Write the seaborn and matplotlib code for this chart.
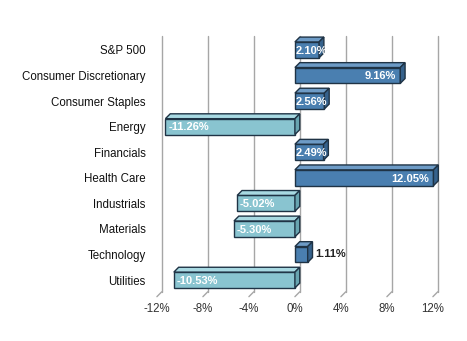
import matplotlib
matplotlib.use("Agg")
import matplotlib.pyplot as plt
import seaborn as sns
import pandas as pd
from matplotlib.patches import Polygon

categories = ["S&P 500", "Consumer Discretionary", "Consumer Staples", "Energy",
              "Financials", "Health Care", "Industrials", "Materials",
              "Technology", "Utilities"]
values = [2.10, 9.16, 2.56, -11.26, 2.49, 12.05, -5.02, -5.30, 1.11, -10.53]
xticks = [-12, -8, -4, 0, 4, 8, 12]
xtick_labels = ["-12%", "-8%", "-4%", "0%", "4%", "8%", "12%"]

sns.set_theme(style="white")
plt.rcParams['font.family'] = ['Liberation Sans', 'DejaVu Sans']

df = pd.DataFrame({"cat": categories, "val": values})
df["sign"] = ["pos" if v >= 0 else "neg" for v in values]

pos_front, pos_top, pos_side = "#4a7fb0", "#6d9bc6", "#36628c"
neg_front, neg_top, neg_side = "#89c4d0", "#a8d9e2", "#68a4b0"
edge = "#1f3345"

fig = plt.figure(figsize=(4.67, 3.41), dpi=100)
ax = fig.add_axes([0.336, 0.13, 0.591, 0.765])

bh = 0.62
sns.barplot(data=df, y="cat", x="val", hue="sign", orient="h",
            palette={"pos": pos_front, "neg": neg_front}, dodge=False, saturation=1,
            width=bh, edgecolor=edge, linewidth=1.0, legend=False, ax=ax, zorder=3)
for p in ax.patches:
    p.set_clip_on(False)

dx, dy = 0.42, 0.19
n = len(categories)
ax.set_xlim(-12, 12)
ax.set_ylim(n - 0.5 + 0.15, -0.5 - 0.05)

# gridlines on back wall with floor diagonal
ybot = n - 0.5 + 0.15
for t in xticks:
    ax.plot([t + dx, t + dx], [-0.55, ybot - dy], color="#a6a6a6", lw=1.0, zorder=1, clip_on=False)
    ax.plot([t + dx, t], [ybot - dy, ybot], color="#a6a6a6", lw=1.0, zorder=1, clip_on=False)

for i, v in enumerate(values):
    x0, x1 = min(0, v), max(0, v)
    yt, yb = i - bh / 2, i + bh / 2
    top_c = pos_top if v >= 0 else neg_top
    side_c = pos_side if v >= 0 else neg_side
    ax.add_patch(Polygon([(x0, yt), (x1, yt), (x1 + dx, yt - dy), (x0 + dx, yt - dy)],
                         closed=True, facecolor=top_c, edgecolor=edge, lw=1.0, zorder=4,
                         clip_on=False))
    ax.add_patch(Polygon([(x1, yt), (x1 + dx, yt - dy), (x1 + dx, yb - dy), (x1, yb)],
                         closed=True, facecolor=side_c, edgecolor=edge, lw=1.0, zorder=4,
                         clip_on=False))
    lab = f"{v:.2f}%"
    if abs(v) < 1.5:
        ax.text(x1 + dx + 0.2, i, lab, ha="left", va="center", fontsize=8,
                fontweight="bold", color="#222222", zorder=6)
    elif v < 0:
        ax.text(v + 0.25, i + 0.03, lab, ha="left", va="center", fontsize=8,
                fontweight="bold", color="white", zorder=6)
    elif v > 5:
        ax.text(v - 0.35, i + 0.03, lab, ha="right", va="center", fontsize=8,
                fontweight="bold", color="white", zorder=6)
    else:
        ax.text(0.05, i + 0.03, lab, ha="left", va="center", fontsize=8,
                fontweight="bold", color="white", zorder=6)

ax.set_xticks(xticks)
ax.set_xticklabels(xtick_labels, fontsize=8.3, color="#333333")
ax.tick_params(axis="y", labelsize=8.3, length=0, pad=8, labelcolor="#111111")
ax.tick_params(axis="x", length=0, pad=4.5)
ax.set_xlabel("")
ax.set_ylabel("")
for s in ax.spines.values():
    s.set_visible(False)

fig.savefig("out.png", dpi=100)
